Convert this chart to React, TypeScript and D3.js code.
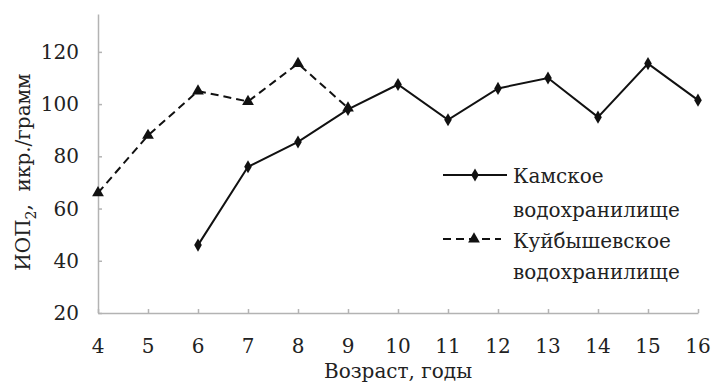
import React, { useEffect, useRef } from 'react'
import * as d3 from 'd3'

// age, years
const kamaAges = [6, 7, 8, 9, 10, 11, 12, 13, 14, 15, 16]
const kamaValues = [46, 76, 85.5, 98, 107.5, 94, 106, 110, 95, 115.5, 101.5]
const kuibAges = [4, 5, 6, 7, 8, 9]
const kuibValues = [66, 88, 105, 101, 115.5, 98.5]
const xTicks = [4, 5, 6, 7, 8, 9, 10, 11, 12, 13, 14, 15, 16]
const yTicks = [20, 40, 60, 80, 100, 120]

const W = 711
const H = 385

export default function App() {
  const ref = useRef<SVGSVGElement>(null)

  useEffect(() => {
    const svg = d3.select(ref.current)
    svg.selectAll('*').remove()

    const font = "'DejaVu Serif', 'Liberation Serif', serif"
    const fs = 20
    const axisColor = '#b3b3b3'
    const textColor = '#222'

    const x = d3.scaleLinear().domain([4, 16]).range([98, 698])
    const y = d3.scaleLinear().domain([20, 134.5]).range([313, 14])

    // y axis
    const yAxis = svg.append('g').attr('transform', 'translate(' + x(4) + ',0)')
    yAxis.call(d3.axisRight(y).tickValues(yTicks).tickSize(4).tickFormat(() => '').tickSizeOuter(0))
    yAxis.select('.domain').attr('stroke', axisColor).attr('stroke-width', 1.5)
    yAxis.selectAll('.tick line').attr('stroke', axisColor).attr('stroke-width', 1.5)

    svg
      .append('g')
      .selectAll('text')
      .data(yTicks)
      .join('text')
      .attr('x', 79)
      .attr('y', (d) => y(d))
      .attr('dy', '0.35em')
      .attr('text-anchor', 'end')
      .style('font-family', font)
      .style('font-size', fs + 'px')
      .attr('fill', textColor)
      .text((d) => d)

    // x axis
    const xAxis = svg.append('g').attr('transform', 'translate(0,' + y(20) + ')')
    xAxis.call(d3.axisTop(x).tickValues(xTicks).tickSize(4).tickFormat(() => '').tickSizeOuter(0))
    xAxis.select('.domain').attr('stroke', axisColor).attr('stroke-width', 1.5)
    xAxis.selectAll('.tick line').attr('stroke', axisColor).attr('stroke-width', 1.5)

    svg
      .append('g')
      .selectAll('text')
      .data(xTicks)
      .join('text')
      .attr('x', (d) => x(d))
      .attr('y', 353)
      .attr('text-anchor', 'middle')
      .style('font-family', font)
      .style('font-size', fs + 'px')
      .attr('fill', textColor)
      .text((d) => d)

    // axis titles
    svg
      .append('text')
      .attr('x', 398)
      .attr('y', 378)
      .attr('text-anchor', 'middle')
      .style('font-family', font)
      .style('font-size', fs + 'px')
      .attr('fill', textColor)
      .text('Возраст, годы')

    const yTitle = svg
      .append('text')
      .attr('transform', 'translate(30,172) rotate(-90)')
      .attr('text-anchor', 'middle')
      .style('font-family', font)
      .style('font-size', fs + 'px')
      .style('white-space', 'pre')
      .attr('fill', textColor)
    yTitle.append('tspan').text('ИОП')
    yTitle.append('tspan').style('font-size', '14px').attr('dy', 6).text('2')
    yTitle.append('tspan').attr('dy', -6).text(',  икр./грамм')

    const line = d3
      .line<[number, number]>()
      .x((d) => x(d[0]))
      .y((d) => y(d[1]))

    const kama = kamaAges.map((a, i) => [a, kamaValues[i]] as [number, number])
    const kuib = kuibAges.map((a, i) => [a, kuibValues[i]] as [number, number])

    // Kuibyshev dashed
    svg
      .append('path')
      .datum(kuib)
      .attr('d', line)
      .attr('fill', 'none')
      .attr('stroke', '#111')
      .attr('stroke-width', 2)
      .attr('stroke-dasharray', '8,5')

    const triangle = d3.symbol().type(d3.symbolTriangle).size(60)
    svg
      .append('g')
      .selectAll('path')
      .data(kuib)
      .join('path')
      .attr('transform', (d) => 'translate(' + x(d[0]) + ',' + y(d[1]) + ')')
      .attr('d', triangle)
      .attr('fill', '#111')

    // Kama solid
    svg
      .append('path')
      .datum(kama)
      .attr('d', line)
      .attr('fill', 'none')
      .attr('stroke', '#111')
      .attr('stroke-width', 2)

    const diamond = d3.symbol().type(d3.symbolDiamond).size(50)
    svg
      .append('g')
      .selectAll('path')
      .data(kama)
      .join('path')
      .attr('transform', (d) => 'translate(' + x(d[0]) + ',' + y(d[1]) + ')')
      .attr('d', diamond)
      .attr('fill', '#111')

    // legend
    const lg = svg.append('g')
    lg.append('line')
      .attr('x1', 443).attr('x2', 507).attr('y1', 175).attr('y2', 175)
      .attr('stroke', '#111').attr('stroke-width', 2)
    lg.append('path')
      .attr('transform', 'translate(475,175)')
      .attr('d', diamond)
      .attr('fill', '#111')
    lg.append('line')
      .attr('x1', 443).attr('x2', 501).attr('y1', 239).attr('y2', 239)
      .attr('stroke', '#111').attr('stroke-width', 2)
      .attr('stroke-dasharray', '8,5')
    lg.append('path')
      .attr('transform', 'translate(474,239)')
      .attr('d', triangle)
      .attr('fill', '#111')

    const legendLines = [
      ['Камское', 183],
      ['водохранилище', 217],
      ['Куйбышевское', 248],
      ['водохранилище', 279],
    ] as [string, number][]
    lg.selectAll('text.lbl')
      .data(legendLines)
      .join('text')
      .attr('class', 'lbl')
      .attr('x', 513)
      .attr('y', (d) => d[1])
      .style('font-family', font)
      .style('font-size', fs + 'px')
      .attr('fill', textColor)
      .text((d) => d[0])
  }, [])

  return (
    <svg
      ref={ref}
      width={W}
      height={H}
      style={{ position: 'absolute', left: 0, top: 0, background: '#fff' }}
    />
  )
}
